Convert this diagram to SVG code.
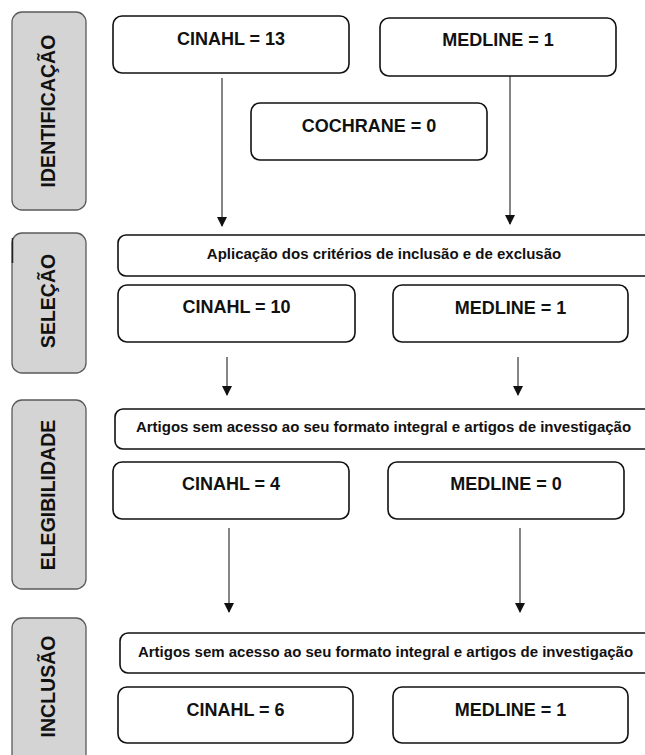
<svg xmlns="http://www.w3.org/2000/svg" width="645" height="755" viewBox="0 0 645 755">
<defs>
<style>
.stage rect{fill:#d4d4d4;stroke:#5a5a5a;stroke-width:1.3}
.stage text{font-family:"Liberation Sans",Arial,sans-serif;font-weight:bold;font-size:19.5px;fill:#111;text-anchor:middle}
.box rect{fill:#fff;stroke:#111;stroke-width:1.6}
.box text{font-family:"Liberation Sans",Arial,sans-serif;font-weight:bold;font-size:18px;fill:#111;text-anchor:middle}
.wide rect{fill:#fff;stroke:#111;stroke-width:1.6}
.wide text{font-family:"Liberation Sans",Arial,sans-serif;font-weight:bold;font-size:15px;fill:#111;text-anchor:middle}
.conn line{stroke:#222;stroke-width:1.1;marker-end:url(#ah)}
</style>
<marker id="ah" markerWidth="10" markerHeight="12" refX="9" refY="5" orient="auto" markerUnits="userSpaceOnUse">
<path d="M0,0 L10,5 L0,10 z" fill="#111"/>
</marker>
</defs>
<rect width="645" height="755" fill="#fff"/>

<g id="stage-identificacao" class="stage">
<rect x="12" y="12" width="74" height="198" rx="10"/>
<text transform="translate(55,111) rotate(-90)">IDENTIFICAÇÃO</text>
</g>
<g id="stage-selecao" class="stage">
<rect x="12" y="233" width="74" height="140" rx="10"/>
<line x1="12.5" y1="238" x2="12.5" y2="263" stroke="#222" stroke-width="1.5"/>
<text transform="translate(55,301) rotate(-90)">SELEÇÃO</text>
</g>
<g id="stage-elegibilidade" class="stage">
<rect x="12" y="400" width="74" height="189" rx="10"/>
<text transform="translate(55,495) rotate(-90)">ELEGIBILIDADE</text>
</g>
<g id="stage-inclusao" class="stage">
<rect x="12" y="618" width="74" height="150" rx="10"/>
<text transform="translate(55,686.5) rotate(-90)">INCLUSÃO</text>
</g>

<g id="cinahl-13" class="box">
<rect x="113" y="16" width="236" height="57" rx="9"/>
<text x="231" y="44.5">CINAHL = 13</text>
</g>
<g id="medline-1a" class="box">
<rect x="380" y="18" width="236" height="58" rx="9"/>
<text x="498" y="46">MEDLINE = 1</text>
</g>
<g id="cochrane-0" class="box">
<rect x="251" y="103" width="236" height="57" rx="9"/>
<text x="369" y="132">COCHRANE = 0</text>
</g>

<g id="criterios" class="wide">
<rect x="118" y="235" width="560" height="41" rx="8"/>
<text x="384" y="259">Aplicação dos critérios de inclusão e de exclusão</text>
</g>
<g id="cinahl-10" class="box">
<rect x="118" y="285" width="237" height="57" rx="9"/>
<text x="236.5" y="313">CINAHL = 10</text>
</g>
<g id="medline-1b" class="box">
<rect x="393" y="285" width="235" height="57" rx="9"/>
<text x="510.5" y="314">MEDLINE = 1</text>
</g>

<g id="artigos-1" class="wide">
<rect x="115" y="409" width="560" height="40" rx="8"/>
<text x="383.5" y="432">Artigos sem acesso ao seu formato integral e artigos de investigação</text>
</g>
<g id="cinahl-4" class="box">
<rect x="113" y="462" width="236" height="57" rx="9"/>
<text x="231" y="490">CINAHL = 4</text>
</g>
<g id="medline-0" class="box">
<rect x="388" y="462" width="236" height="57" rx="9"/>
<text x="506" y="490">MEDLINE = 0</text>
</g>

<g id="artigos-2" class="wide">
<rect x="120" y="633" width="560" height="40" rx="8"/>
<text x="385.5" y="657">Artigos sem acesso ao seu formato integral e artigos de investigação</text>
</g>
<g id="cinahl-6" class="box">
<rect x="118" y="687" width="235" height="56" rx="9"/>
<text x="235.5" y="716">CINAHL = 6</text>
</g>
<g id="medline-1c" class="box">
<rect x="393" y="687" width="235" height="56" rx="9"/>
<text x="510.5" y="716">MEDLINE = 1</text>
</g>

<g id="connectors" class="conn">
<line x1="222" y1="78" x2="222" y2="226"/>
<line x1="510" y1="76" x2="510" y2="224"/>
<line x1="227" y1="357" x2="227" y2="395"/>
<line x1="518" y1="357" x2="518" y2="395"/>
<line x1="229" y1="528" x2="229" y2="612"/>
<line x1="520" y1="528" x2="520" y2="612"/>
</g>
</svg>
